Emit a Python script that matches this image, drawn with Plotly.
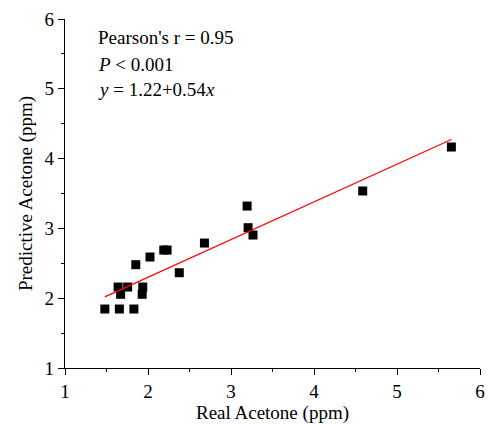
import plotly.graph_objects as go

real_acetone = [1.48, 1.655, 1.83, 1.64, 1.755, 1.67, 1.937, 1.93, 1.853, 2.024,
                2.19, 2.23, 2.377, 2.68, 3.194, 3.206, 3.265, 4.587, 5.655]
pred_acetone = [1.845, 1.845, 1.845, 2.16, 2.16, 2.056, 2.16, 2.056, 2.48, 2.59,
                2.69, 2.69, 2.365, 2.79, 3.32, 3.01, 2.905, 3.536, 4.166]
intercept = 1.22
slope = 0.54
tick_vals = [1, 2, 3, 4, 5, 6]
stats_lines = ["Pearson's r = 0.95", "<i>P</i> < 0.001", "<i>y</i> = 1.22+0.54<i>x</i>"]

fit_x = [min(real_acetone), max(real_acetone)]
fit_y = [intercept + slope * v for v in fit_x]

FONT = "Liberation Serif, Times New Roman, serif"

fig = go.Figure()
fig.add_trace(go.Scatter(x=real_acetone, y=pred_acetone, mode="markers",
                         marker=dict(symbol="square", size=9, color="black"),
                         showlegend=False))
fig.add_trace(go.Scatter(x=fit_x, y=fit_y, mode="lines",
                         line=dict(color="red", width=1.2), showlegend=False))

axis_common = dict(showline=True, linecolor="black", linewidth=1.3,
                   ticks="outside", ticklen=6, tickwidth=1.3, tickcolor="black",
                   showgrid=False, zeroline=False, mirror=False,
                   tickfont=dict(family=FONT, size=19, color="black"),
                   minor=dict(ticks="outside", ticklen=3, tickwidth=1.3,
                              tickcolor="black", dtick=0.5, showgrid=False))

fig.update_xaxes(range=[1, 6], tickvals=tick_vals, **axis_common,
                 title=dict(text="Real Acetone (ppm)",
                            font=dict(family=FONT, size=19, color="black"),
                            standoff=4))
fig.update_yaxes(range=[1, 6], tickvals=tick_vals, **axis_common,
                 title=dict(text="Predictive Acetone (ppm)",
                            font=dict(family=FONT, size=19, color="black"),
                            standoff=6))

line_y = [0.946, 0.871, 0.797]
for txt, yy in zip(stats_lines, line_y):
    fig.add_annotation(xref="paper", yref="paper", x=0.074, y=yy,
                       xanchor="left", yanchor="middle", showarrow=False,
                       text=txt, font=dict(family=FONT, size=19, color="black"))

fig.update_layout(width=490, height=424, margin=dict(l=65, r=5, t=19, b=56),
                  plot_bgcolor="white", paper_bgcolor="white")

fig.write_html("out.html")
